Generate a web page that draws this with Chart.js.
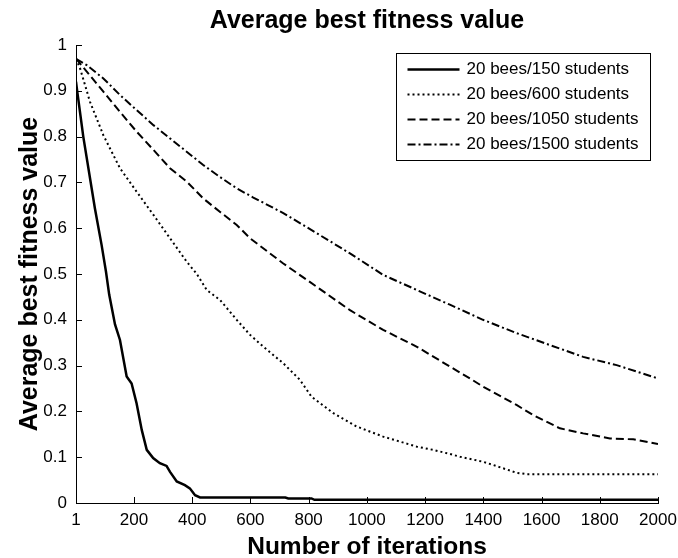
<!DOCTYPE html>
<html>
<head>
<meta charset="utf-8">
<script src="https://cdn.jsdelivr.net/npm/chart.js@4.4.1/dist/chart.umd.min.js"></script>
<style>
  body { margin: 0; background: #fff; }
  #wrap { width: 678px; height: 558px; }
</style>
</head>
<body>
<div id="wrap"><canvas id="myChart"></canvas></div>
<script>
// values
const iter150 = [1, 5, 26, 66, 89, 104, 115, 135, 152, 175, 192, 209, 227, 244, 266, 289, 312, 324, 347, 375, 392, 410, 427, 720, 730, 810, 820, 2000];
const fit150  = [0.92, 0.90, 0.80, 0.643, 0.563, 0.505, 0.455, 0.39, 0.356, 0.276, 0.261, 0.218, 0.159, 0.116, 0.098, 0.087, 0.081, 0.068, 0.047, 0.039, 0.032, 0.017, 0.012, 0.012, 0.010, 0.010, 0.007, 0.007];

const iter600 = [1, 15, 49, 95, 152, 209, 267, 324, 381, 416, 450, 496, 553, 599, 645, 713, 770, 810, 885, 965, 1056, 1172, 1228, 1285, 1320, 1399, 1434, 1514, 1549, 2000];
const fit600  = [0.97, 0.949, 0.876, 0.803, 0.731, 0.68, 0.629, 0.578, 0.527, 0.50, 0.465, 0.443, 0.40, 0.367, 0.341, 0.305, 0.269, 0.232, 0.196, 0.167, 0.145, 0.123, 0.116, 0.107, 0.101, 0.09, 0.083, 0.066, 0.063, 0.063];

const iter1050 = [1, 38, 95, 152, 209, 267, 324, 381, 438, 495, 553, 599, 667, 713, 828, 942, 1056, 1172, 1285, 1354, 1399, 1514, 1571, 1663, 1743, 1835, 1915, 2000];
const fit1050  = [0.97, 0.942, 0.898, 0.854, 0.811, 0.771, 0.731, 0.702, 0.665, 0.636, 0.607, 0.578, 0.545, 0.523, 0.472, 0.421, 0.378, 0.341, 0.298, 0.272, 0.254, 0.214, 0.192, 0.163, 0.152, 0.141, 0.139, 0.129];

const iter1500 = [1, 38, 95, 152, 209, 267, 324, 381, 438, 495, 553, 610, 713, 828, 942, 1056, 1172, 1285, 1399, 1514, 1628, 1743, 1858, 2000];
const fit1500  = [0.97, 0.956, 0.927, 0.891, 0.858, 0.825, 0.796, 0.767, 0.738, 0.712, 0.687, 0.667, 0.633, 0.589, 0.545, 0.498, 0.465, 0.433, 0.40, 0.371, 0.345, 0.319, 0.301, 0.272];

const seriesLabels = ['20 bees/150 students', '20 bees/600 students', '20 bees/1050 students', '20 bees/1500 students'];
const xTicks = [1, 200, 400, 600, 800, 1000, 1200, 1400, 1600, 1800, 2000];
const yTicks = [0, 0.1, 0.2, 0.3, 0.4, 0.5, 0.6, 0.7, 0.8, 0.9, 1];

const FONT = "'Liberation Sans', Arial, Helvetica, sans-serif";

function toPoints(xs, ys) {
    return xs.map((v, i) => ({ x: v, y: ys[i] }));
}

// MATLAB style: ticks pointing into the plot, plus a boxed legend
const axesExtras = {
    id: 'axesExtras',
    afterDraw(chart) {
        const { ctx, chartArea: a, scales: { x, y } } = chart;
        ctx.save();
        ctx.strokeStyle = '#000';
        ctx.lineWidth = 1;
        ctx.beginPath();
        x.ticks.forEach(t => {
            const px = Math.round(x.getPixelForValue(t.value)) + 0.5;
            ctx.moveTo(px, a.bottom);
            ctx.lineTo(px, a.bottom - 6);
        });
        y.ticks.forEach(t => {
            const py = Math.round(y.getPixelForValue(t.value)) + 0.5;
            ctx.moveTo(a.left, py);
            ctx.lineTo(a.left + 6, py);
        });
        ctx.stroke();

        // legend
        const bw = 254, bh = 107;
        const bx = Math.round(a.right - 8 - bw) + 0.5;
        const by = Math.round(a.top + 8) + 0.5;
        ctx.fillStyle = '#fff';
        ctx.fillRect(bx, by, bw, bh);
        ctx.strokeRect(bx, by, bw, bh);
        ctx.font = '17px ' + FONT;
        ctx.textBaseline = 'middle';
        ctx.textAlign = 'left';
        chart.data.datasets.forEach((ds, i) => {
            const ly = by + 16 + i * 25;
            ctx.save();
            ctx.strokeStyle = ds.borderColor;
            ctx.lineWidth = ds.borderWidth;
            ctx.setLineDash(ds.borderDash || []);
            ctx.beginPath();
            ctx.moveTo(bx + 11, ly);
            ctx.lineTo(bx + 63, ly);
            ctx.stroke();
            ctx.restore();
            ctx.fillStyle = '#000';
            ctx.fillText(ds.label, bx + 70, ly);
        });
        ctx.restore();
    }
};

const chartContext = document.getElementById('myChart').getContext('2d');
const myChart = new Chart(chartContext, {
    type: 'line',
    data: {
        datasets: [{
            label: seriesLabels[0],
            data: toPoints(iter150, fit150),
            borderColor: '#000',
            borderWidth: 2.5,
            borderDash: []
        }, {
            label: seriesLabels[1],
            data: toPoints(iter600, fit600),
            borderColor: '#000',
            borderWidth: 2,
            borderDash: [2, 3]
        }, {
            label: seriesLabels[2],
            data: toPoints(iter1050, fit1050),
            borderColor: '#000',
            borderWidth: 2,
            borderDash: [8, 4]
        }, {
            label: seriesLabels[3],
            data: toPoints(iter1500, fit1500),
            borderColor: '#000',
            borderWidth: 2,
            borderDash: [8, 3, 2, 3]
        }]
    },
    options: {
        responsive: true,
        maintainAspectRatio: false,
        animation: false,
        elements: { point: { radius: 0 }, line: { tension: 0, fill: false } },
        layout: { autoPadding: false, padding: { left: 0, right: 20, top: 0, bottom: 0 } },
        plugins: {
            legend: { display: false },
            tooltip: { enabled: false },
            title: {
                display: true,
                fullSize: false,
                text: 'Average best fitness value',
                color: '#000',
                font: { family: FONT, size: 25, weight: 'bold', lineHeight: 1.2 },
                padding: { top: 6, bottom: 9 }
            }
        },
        scales: {
            x: {
                type: 'linear',
                min: 1,
                max: 2000,
                grid: { display: false, drawTicks: false },
                border: { display: true, color: '#000', width: 1 },
                afterBuildTicks: (scale) => { scale.ticks = xTicks.map(v => ({ value: v })); },
                afterFit: (scale) => {
                    scale.height = 55;
                    scale.paddingLeft = 0;
                    scale.paddingRight = 0;
                },
                ticks: {
                    color: '#000',
                    padding: 7,
                    maxRotation: 0,
                    autoSkip: false,
                    font: { family: FONT, size: 17 },
                    callback: (v) => String(v)
                },
                title: {
                    display: true,
                    text: 'Number of iterations',
                    color: '#000',
                    font: { family: FONT, size: 24.5, weight: 'bold', lineHeight: 1.2 },
                    padding: { top: 0, bottom: -4 }
                }
            },
            y: {
                type: 'linear',
                min: 0,
                max: 1,
                grid: { display: false, drawTicks: false },
                border: { display: true, color: '#000', width: 1 },
                afterBuildTicks: (scale) => { scale.ticks = yTicks.map(v => ({ value: v })); },
                afterFit: (scale) => { scale.width = 76; },
                ticks: {
                    color: '#000',
                    padding: 9,
                    autoSkip: false,
                    font: { family: FONT, size: 17 },
                    callback: (v) => String(v)
                },
                title: {
                    display: true,
                    text: 'Average best fitness value',
                    color: '#000',
                    font: { family: FONT, size: 25, weight: 'bold', lineHeight: 1.2 },
                    padding: { top: 15, bottom: 0 }
                }
            }
        }
    },
    plugins: [axesExtras]
});
</script>
</body>
</html>
